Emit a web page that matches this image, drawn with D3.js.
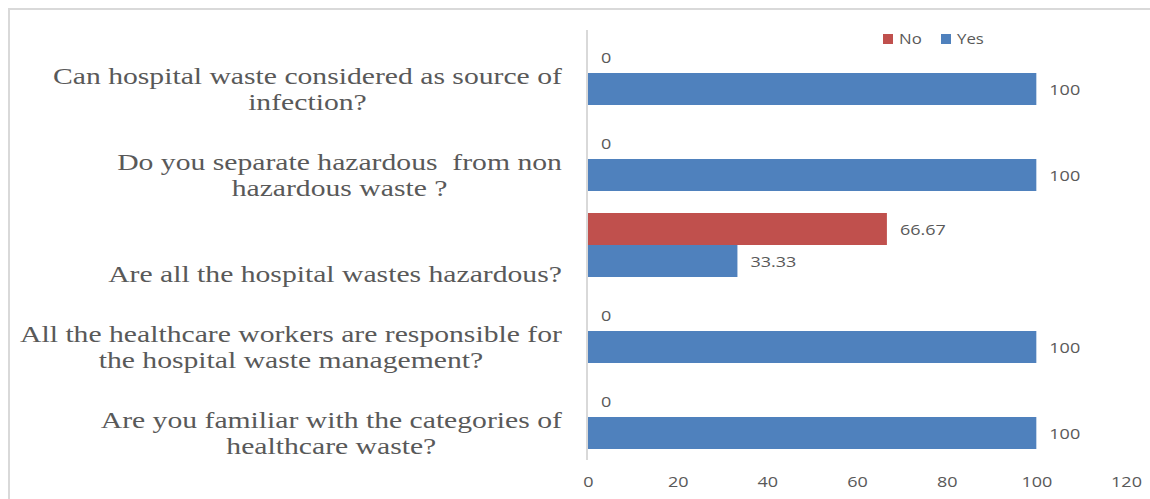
<!DOCTYPE html>
<html>
<head>
<meta charset="utf-8">
<script src="https://cdn.jsdelivr.net/npm/d3@7"></script>
<style>
  html, body { margin: 0; padding: 0; background: #fff; }
  svg { display: block; }
  text { white-space: pre; }
</style>
</head>
<body>
<svg id="chart" width="1150" height="499"></svg>
<script>
// ---- data ----
const categories = [
  "Can hospital waste considered as source of infection?",
  "Do you separate hazardous  from non hazardous waste ?",
  "Are all the hospital wastes hazardous?",
  "All the healthcare workers are responsible for the hospital waste management?",
  "Are you familiar with the categories of healthcare waste?"
];
const categoryLines = [
  ["Can hospital waste considered as source of", "infection?"],
  ["Do you separate hazardous  from non", "hazardous waste ?"],
  ["", "Are all the hospital wastes hazardous?"],
  ["All the healthcare workers are responsible for", "the hospital waste management?"],
  ["Are you familiar with the categories of", "healthcare waste?"]
];
const seriesNames = ["No", "Yes"];
const noValues  = [0, 0, 66.67, 0, 0];
const yesValues = [100, 100, 33.33, 100, 100];
const xTicks = [0, 20, 40, 60, 80, 100, 120];
const colors = { No: "#C0504D", Yes: "#4F81BD" };

// ---- layout ----
const svg = d3.select("#chart");
const W = 1150, H = 499;
const plot = { left: 588, right: 1126, top: 30, bottom: 460 };
const textColor = "#595959";
const sx = 1.2;      // horizontal stretch of numeric text
const sxLabel = 1.29; // horizontal stretch of category labels

// outer frame
svg.append("path")
  .attr("d", `M9,${H} L9,9 L${W},9`)
  .attr("fill", "none").attr("stroke", "#d9d9d9").attr("stroke-width", 2);

const x = d3.scaleLinear().domain([0, 120]).range([plot.left, plot.right]);
const y = d3.scaleBand().domain(categories).range([plot.top, plot.bottom])
  .paddingInner(22 / 86).paddingOuter(11 / 86);
const ySub = d3.scaleBand().domain(seriesNames).range([0, y.bandwidth()]);

const rows = categories.map((c, i) => ({ cat: c, No: noValues[i], Yes: yesValues[i], lines: categoryLines[i] }));

// bars
const g = svg.append("g");
rows.forEach(r => {
  seriesNames.forEach(s => {
    const y0 = y(r.cat) + ySub(s);
    g.append("rect")
      .attr("x", x(0))
      .attr("y", y0)
      .attr("width", x(r[s]) - x(0))
      .attr("height", ySub.bandwidth())
      .attr("fill", colors[s]);
    g.append("text")
      .attr("transform", `translate(${x(r[s]) + 13},${y0 + ySub.bandwidth() / 2}) scale(${sx},1)`)
      .attr("dominant-baseline", "central")
      .attr("font-family", "Open Sans, sans-serif")
      .attr("font-size", 15)
      .attr("fill", textColor)
      .text(r[s]);
  });
});

// vertical axis line
svg.append("line")
  .attr("x1", x(0) - 1).attr("x2", x(0) - 1)
  .attr("y1", plot.top).attr("y2", plot.bottom)
  .attr("stroke", "#d9d9d9").attr("stroke-width", 2);

// x axis tick labels via d3 axis
const xAxis = svg.append("g")
  .attr("transform", `translate(0,${plot.bottom})`)
  .call(d3.axisBottom(x).tickValues(xTicks).tickSize(0).tickPadding(0));
xAxis.select(".domain").remove();
xAxis.selectAll(".tick text")
  .attr("y", 0)
  .attr("dy", 0)
  .attr("transform", `translate(0,21) scale(${sx},1)`)
  .attr("dominant-baseline", "central")
  .attr("font-family", "Open Sans, sans-serif")
  .attr("font-size", 15)
  .attr("fill", textColor);

// category labels (right-aligned block, lines centred)
const labelRight = 562;
const lineH = 25.5;
rows.forEach(r => {
  const cy = y(r.cat) + ySub("Yes") + ySub.bandwidth() / 2;
  const lg = svg.append("g");
  const texts = r.lines.map((ln, k) => lg.append("text")
    .attr("font-family", "Liberation Serif, Times New Roman, serif")
    .attr("font-size", 23)
    .attr("fill", textColor)
    .attr("text-anchor", "middle")
    .attr("dominant-baseline", "central")
    .attr("y", (k - (r.lines.length - 1) / 2) * lineH)
    .text(ln));
  const maxW = d3.max(texts, t => t.node().getComputedTextLength()) * sxLabel;
  lg.attr("transform", `translate(${labelRight - maxW / 2},${cy}) scale(${sxLabel},1)`);
});

// legend
const legend = svg.append("g");
[["No", 883], ["Yes", 941]].forEach(([s, lx]) => {
  legend.append("rect").attr("x", lx).attr("y", 34).attr("width", 10).attr("height", 10).attr("fill", colors[s]);
  legend.append("text")
    .attr("transform", `translate(${lx + 16},39) scale(${sx},1)`)
    .attr("dominant-baseline", "central")
    .attr("font-family", "Open Sans, sans-serif")
    .attr("font-size", 14)
    .attr("fill", textColor)
    .text(s);
});
</script>
</body>
</html>
